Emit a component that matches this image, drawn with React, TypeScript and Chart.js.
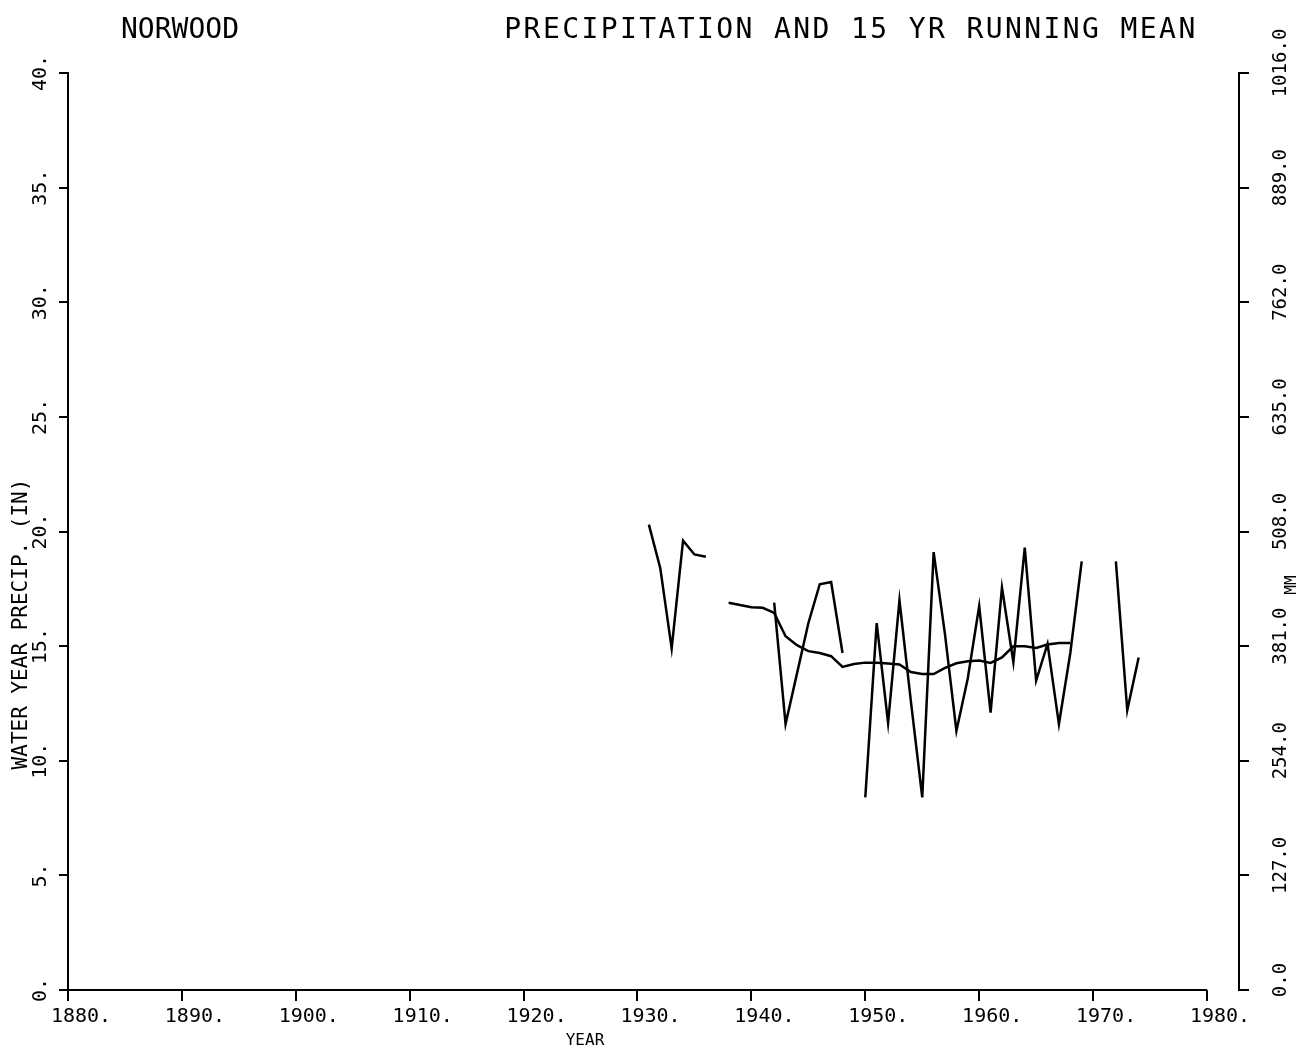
import React, { useEffect, useRef } from "react";
import { Chart, registerables } from "chart.js";

Chart.register(...registerables);

// ---- data ----
const precipYears = [
  1931, 1932, 1933, 1934, 1935, 1936, 1937, 1938, 1939, 1940, 1941, 1942, 1943, 1944, 1945,
  1946, 1947, 1948, 1949, 1950, 1951, 1952, 1953, 1954, 1955, 1956, 1957, 1958, 1959, 1960,
  1961, 1962, 1963, 1964, 1965, 1966, 1967, 1968, 1969, 1970, 1971, 1972, 1973, 1974,
];
const precipValues: (number | null)[] = [
  20.3, 18.4, 14.9, 19.6, 19.0, 18.9, null, null, null, null, null, 16.9, 11.6, 13.8, 16.0,
  17.7, 17.8, 14.7, null, 8.4, 16.0, 11.65, 17.0, 12.6, 8.4, 19.1, 15.5, 11.3, 13.6, 16.75,
  12.1, 17.55, 14.3, 19.3, 13.5, 15.1, 11.6, 14.7, 18.7, null, null, 18.7, 12.2, 14.5,
];
const meanYears = [
  1938, 1939, 1940, 1941, 1942, 1943, 1944, 1945, 1946, 1947, 1948, 1949, 1950, 1951, 1952,
  1953, 1954, 1955, 1956, 1957, 1958, 1959, 1960, 1961, 1962, 1963, 1964, 1965, 1966, 1967, 1968,
];
const meanValues = [
  16.89, 16.79, 16.7, 16.67, 16.45, 15.43, 15.04, 14.78, 14.7, 14.56, 14.09, 14.22, 14.28, 14.27,
  14.24, 14.2, 13.87, 13.78, 13.78, 14.05, 14.25, 14.34, 14.37, 14.27, 14.51, 14.99, 14.99, 14.92,
  15.07, 15.14, 15.14,
];
const xTickYears = [1880, 1890, 1900, 1910, 1920, 1930, 1940, 1950, 1960, 1970, 1980];
const inchTicks = [0, 5, 10, 15, 20, 25, 30, 35, 40];
const mmTicks = [0, 127, 254, 381, 508, 635, 762, 889, 1016];

const stationName = "NORWOOD";
const chartTitle = "PRECIPITATION AND 15 YR RUNNING MEAN";
const yTitle = "WATER YEAR PRECIP. (IN)";
const xTitle = "YEAR";
const mmTitle = "MM";

const FONT = "'DejaVu Sans Mono', 'Liberation Mono', monospace";

function rotText(ctx: CanvasRenderingContext2D, t: string, cx: number, cy: number) {
  ctx.save();
  ctx.translate(cx, cy);
  ctx.rotate(-Math.PI / 2);
  ctx.textAlign = "center";
  ctx.textBaseline = "middle";
  ctx.fillText(t, 0, 0);
  ctx.restore();
}

const textPlugin = {
  id: "plotterText",
  afterDraw(chart: any) {
    const ctx: CanvasRenderingContext2D = chart.ctx;
    const { x, y, y2 } = chart.scales;
    const area = chart.chartArea;
    ctx.save();
    ctx.fillStyle = "#000";
    ctx.strokeStyle = "#000";

    // x axis line (ends at 1980)
    ctx.lineWidth = 2;
    ctx.beginPath();
    ctx.moveTo(x.getPixelForValue(xTickYears[0]), area.bottom);
    ctx.lineTo(x.getPixelForValue(xTickYears[xTickYears.length - 1]), area.bottom);
    ctx.stroke();

    // titles
    ctx.font = `28px ${FONT}`;
    ctx.textAlign = "center";
    ctx.textBaseline = "middle";
    ctx.fillText(stationName, 180, 31);
    (ctx as any).letterSpacing = "2.4px";
    ctx.fillText(chartTitle, 851, 31);
    (ctx as any).letterSpacing = "0px";

    // left tick labels
    ctx.font = `20px ${FONT}`;
    for (const t of y.ticks) {
      rotText(ctx, `${t.value}.`, 41, y.getPixelForValue(t.value));
    }
    // right tick labels
    ctx.font = `19px ${FONT}`;
    for (const t of y2.ticks) {
      rotText(ctx, `${t.value.toFixed(1)}`, 1281, y2.getPixelForValue(t.value) - 10);
    }
    ctx.font = `16px ${FONT}`;
    rotText(ctx, mmTitle, 1292, 585);

    // axis titles
    ctx.font = `21px ${FONT}`;
    rotText(ctx, yTitle, 22, 624);
    ctx.font = `16px ${FONT}`;
    ctx.textAlign = "center";
    ctx.textBaseline = "middle";
    ctx.fillText(xTitle, 585, 1041);
    ctx.restore();
  },
};

export default function App() {
  const ref = useRef<HTMLCanvasElement | null>(null);

  useEffect(() => {
    if (!ref.current) return;
    const chart = new Chart(ref.current, {
      type: "line",
      data: {
        datasets: [
          {
            label: "Precipitation",
            data: precipYears.map((yr, i) => ({ x: yr, y: precipValues[i] })),
            borderColor: "#000",
            borderWidth: 2.5,
            pointRadius: 0,
            tension: 0,
            spanGaps: false,
            fill: false,
          },
          {
            label: "15 yr running mean",
            data: meanYears.map((yr, i) => ({ x: yr, y: meanValues[i] })),
            borderColor: "#000",
            borderWidth: 2.5,
            pointRadius: 0,
            tension: 0,
            fill: false,
            yAxisID: "y",
          },
        ] as any,
      },
      options: {
        animation: false,
        responsive: false,
        devicePixelRatio: 1,
        layout: { padding: { top: 73, left: 0, right: 0, bottom: 0 } },
        plugins: { legend: { display: false }, tooltip: { enabled: false } },
        scales: {
          x: {
            type: "linear",
            position: "bottom",
            min: 1880,
            max: 1982.81,
            afterBuildTicks: (s: any) => {
              s.ticks = xTickYears.map((v) => ({ value: v }));
            },
            afterFit: (s: any) => {
              s.height = 61;
            },
            ticks: {
              autoSkip: false,
              maxRotation: 0,
              minRotation: 0,
              padding: 4,
              labelOffset: 13,
              color: "#000",
              font: { family: FONT, size: 20 },
              callback: (v: any) => `${v}.`,
            },
            grid: {
              drawOnChartArea: false,
              drawTicks: true,
              tickLength: 11,
              color: "#000",
              lineWidth: 2,
            },
            border: { display: false },
          },
          y: {
            type: "linear",
            position: "left",
            min: 0,
            max: 40,
            afterBuildTicks: (s: any) => {
              s.ticks = inchTicks.map((v) => ({ value: v }));
            },
            afterFit: (s: any) => {
              s.width = 68;
            },
            ticks: { display: false },
            grid: {
              drawOnChartArea: false,
              drawTicks: true,
              tickLength: 9,
              color: "#000",
              lineWidth: 2,
            },
            border: { display: true, color: "#000", width: 2 },
          },
          y2: {
            type: "linear",
            position: "right",
            min: 0,
            max: 1016,
            afterBuildTicks: (s: any) => {
              s.ticks = mmTicks.map((v) => ({ value: v }));
            },
            afterFit: (s: any) => {
              s.width = 60;
            },
            ticks: { display: false },
            grid: {
              drawOnChartArea: false,
              drawTicks: true,
              tickLength: 10,
              color: "#000",
              lineWidth: 2,
            },
            border: { display: true, color: "#000", width: 2 },
          },
        },
      } as any,
      plugins: [textPlugin],
    });
    return () => chart.destroy();
  }, []);

  return (
    <div style={{ position: "absolute", left: 0, top: 0, width: 1299, height: 1051, background: "#fff" }}>
      <canvas ref={ref} width={1299} height={1051} style={{ display: "block" }} />
    </div>
  );
}
